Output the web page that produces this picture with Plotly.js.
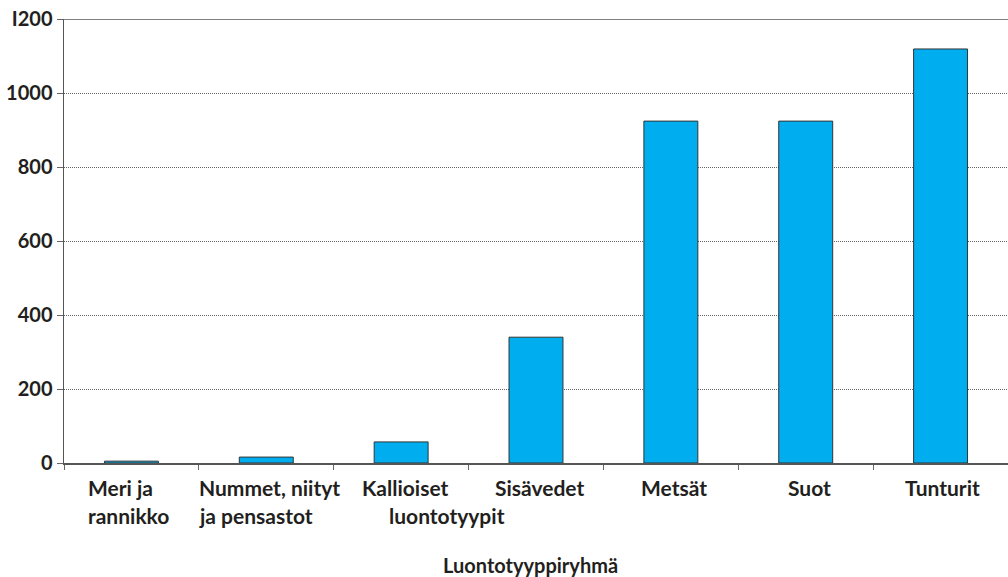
<!DOCTYPE html>
<html>
<head>
<meta charset="utf-8">
<script src="https://cdn.plot.ly/plotly-3.0.1.min.js"></script>
<style>html,body{margin:0;padding:0;background:#fff;}#chart{width:1008px;height:577px;}</style>
</head>
<body>
<div id="chart"></div>
<script>
// Data
const categories = ["Meri ja rannikko", "Nummet, niityt ja pensastot", "Kallioiset luontotyypit", "Sisävedet", "Metsät", "Suot", "Tunturit"];
const labelLines = [["Meri ja", "rannikko"], ["Nummet, niityt", "ja pensastot"], ["Kallioiset", "luontotyypit"], ["Sisävedet"], ["Metsät"], ["Suot"], ["Tunturit"]];
const values = [5, 16, 57, 340, 924, 924, 1119];
const yTickVals = [0, 200, 400, 600, 800, 1000, 1200];
const yTickText = ["0", "200", "400", "600", "800", "1000", "I200"];
const xTitle = "Luontotyyppiryhmä";

// Style: per-line label left offsets (px from category centre)
const lineLeft = [[-45, -45], [-69, -69], [-41, -14], [-43], [-32], [-20], [-38]];
const lineShift = [-24, -52];

const FONT = "Lato, 'Open Sans', sans-serif";
const TXT = '#231f20';
const annotations = [];
labelLines.forEach((lines, i) => {
  lines.forEach((t, j) => {
    annotations.push({
      x: categories[i], xref: 'x', y: 0, yref: 'paper',
      xanchor: 'left', yanchor: 'middle', xshift: lineLeft[i][j], yshift: lineShift[j],
      text: t, showarrow: false,
      font: {family: FONT, size: 21, color: TXT, weight: 'bold'}
    });
  });
});
annotations.push({
  x: 0.5, xref: 'paper', y: 0, yref: 'paper', xanchor: 'center', yanchor: 'middle',
  xshift: -6, yshift: -102, text: xTitle, showarrow: false,
  font: {family: FONT, size: 20, color: TXT, weight: 'bold'}
});

const trace = {
  type: 'bar', x: categories, y: values,
  marker: {color: '#00AEEF', line: {color: '#333333', width: 1}},
  hoverinfo: 'x+y'
};

const layout = {
  width: 1008, height: 577,
  margin: {l: 64, r: 0, t: 19, b: 114},
  paper_bgcolor: '#ffffff', plot_bgcolor: '#ffffff',
  bargap: 0.6,
  showlegend: false,
  font: {family: FONT, color: TXT},
  xaxis: {
    showticklabels: false, tickson: 'boundaries', ticks: 'outside', ticklen: 5,
    tickcolor: '#666', showline: true, linecolor: '#555', linewidth: 1.5,
    showgrid: false, zeroline: false
  },
  yaxis: {
    range: [0, 1200], tickvals: yTickVals, ticktext: yTickText,
    ticks: 'outside', ticklen: 6, tickcolor: '#666',
    showline: true, linecolor: '#555', linewidth: 1.5,
    showgrid: true, gridcolor: '#666', gridwidth: 1, griddash: '1px,1px',
    zeroline: false,
    tickfont: {family: FONT, size: 20, color: TXT, weight: 'bold'}
  },
  shapes: [{type: 'line', xref: 'paper', yref: 'y', x0: 0, x1: 1, y0: 1200, y1: 1200, line: {color: '#555', width: 1.5}}],
  annotations: annotations
};

Plotly.newPlot('chart', [trace], layout, {displayModeBar: false, staticPlot: true});
</script>
</body>
</html>
